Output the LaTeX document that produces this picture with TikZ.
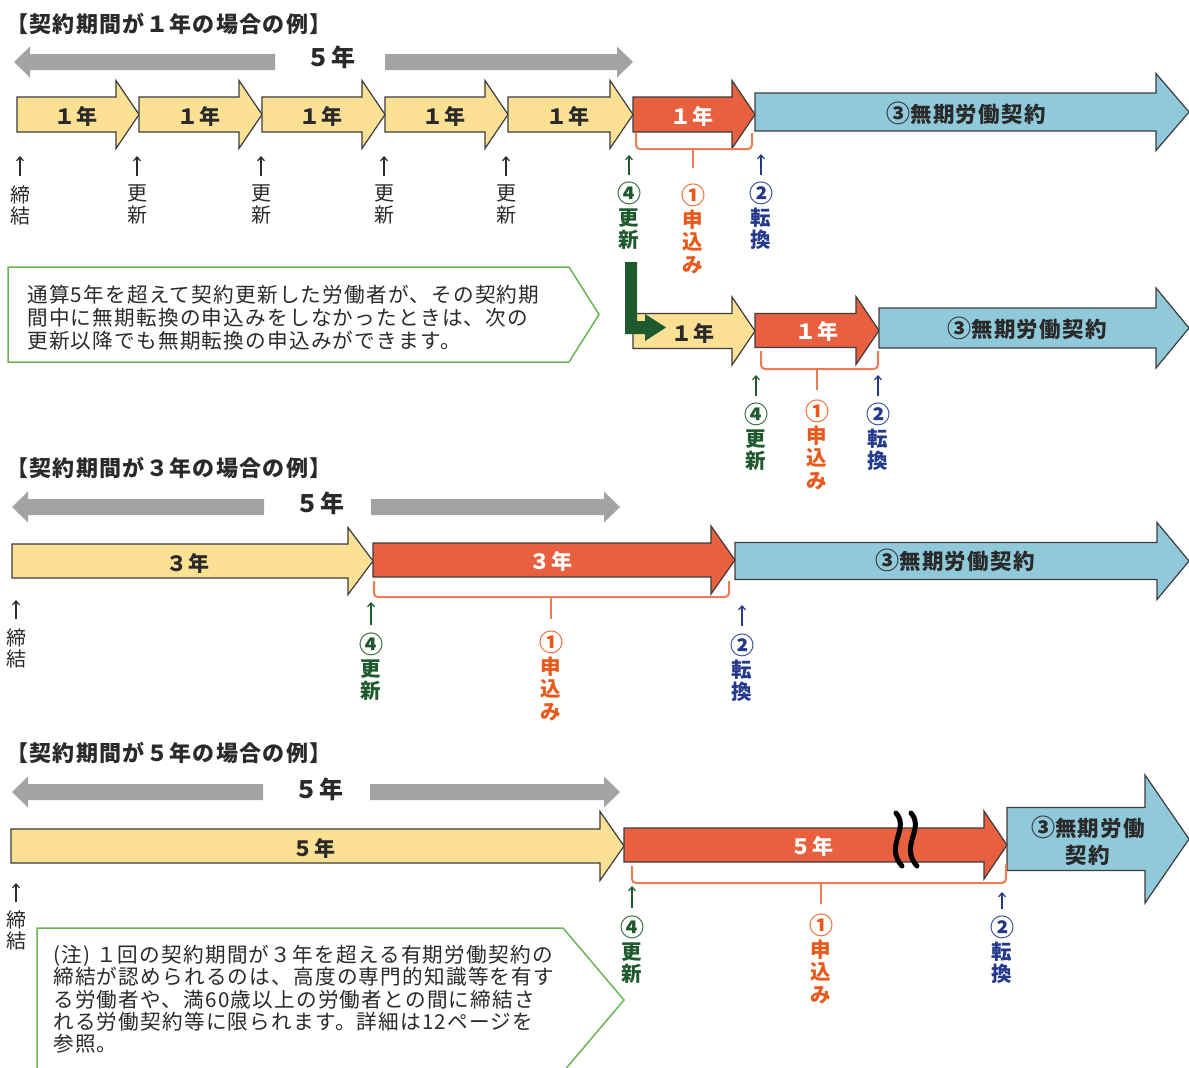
\documentclass[tikz,border=0pt]{standalone}
\usepackage{fontspec}
\setmainfont{Noto Sans CJK JP}
\newfontfamily\jpls[LetterSpace=6]{Noto Sans CJK JP}
\usetikzlibrary{arrows.meta}
\definecolor{yelF}{HTML}{FCE195}
\definecolor{redF}{HTML}{E8603F}
\definecolor{bluF}{HTML}{90C9DA}
\definecolor{grayA}{HTML}{A3A3A3}
\definecolor{outl}{HTML}{3C3C3C}
\definecolor{boxG}{HTML}{6AB656}
\definecolor{dgreen}{HTML}{1F5A2F}
\definecolor{orT}{HTML}{E85A1C}
\definecolor{blT}{HTML}{25398C}
\definecolor{brkC}{HTML}{EE7C52}
\definecolor{txt}{HTML}{2A2A2A}
\newcommand{\cn}[1]{{\fontsize{24}{22.5}\selectfont #1}}
\newcommand{\barrow}[7]{%
  \path[#1] (#2,{#5-#6}) -- (#3,{#5-#6}) -- (#3,{#5-#7}) -- (#4,#5) -- (#3,{#5+#7}) -- (#3,{#5+#6}) -- (#2,{#5+#6}) -- cycle;}
\newcommand{\garrow}[7]{%
  \fill[grayA] (#1,#7) -- (#2,{#7-15.5}) -- (#2,{#7-8}) -- (#3,{#7-8}) -- (#3,{#7+8}) -- (#2,{#7+8}) -- (#2,{#7+15.5}) -- cycle;
  \fill[grayA] (#6,#7) -- (#5,{#7-15.5}) -- (#5,{#7-8}) -- (#4,{#7-8}) -- (#4,{#7+8}) -- (#5,{#7+8}) -- (#5,{#7+15.5}) -- cycle;}
\begin{document}
\begin{tikzpicture}[x=1pt,y=-1pt,
  arr/.style={draw=outl, line width=1.2, line join=miter},
  ya/.style={arr, fill=yelF},
  ra/.style={arr, fill=redF},
  ba/.style={arr, fill=bluF},
  title/.style={anchor=west, inner sep=0, text=txt, font=\jpls\bfseries\fontsize{22}{22}\selectfont},
  fiveL/.style={inner sep=0, text=txt, font=\jpls\bfseries\fontsize{24}{24}\selectfont},
  lab/.style={inner sep=0, text=txt, font=\jpls\bfseries\fontsize{21}{21}\selectfont},
  wlab/.style={lab, text=white},
  blab/.style={inner sep=0, text=txt, align=center, font=\jpls\bfseries\fontsize{21.5}{27}\selectfont},
  vl/.style={inner sep=0, anchor=north, align=center},
  vlk/.style={vl, text=txt, font=\fontsize{20}{21.5}\selectfont},
  vlg/.style={vl, text=dgreen, font=\bfseries\fontsize{20.5}{22.5}\selectfont},
  vlo/.style={vl, text=orT, font=\bfseries\fontsize{20.5}{22.5}\selectfont},
  vlb/.style={vl, text=blT, font=\bfseries\fontsize{20.5}{22.5}\selectfont},
  uarr/.style={line width=1.2, -{Straight Barb[length=4pt,width=7pt]}},
  brk/.style={draw=brkC, line width=2, rounded corners=4},
  callout/.style={draw=boxG, line width=1.5, line join=miter},
  ctext/.style={anchor=north west, inner sep=0, align=left, text=txt},
  wave/.style={line width=5, line cap=round, black}
]
\useasboundingbox (0,0) rectangle (1189,1068);
\fill[white] (0,0) rectangle (1189,1068);
\clip (0,0) rectangle (1189,1068);

% ===== Section 1 =====
\node[title] (t1) at (6,24) {【契約期間が１年の場合の例】};
\garrow{14}{30}{275}{385}{617}{633}{62}
\node[fiveL] (g1) at (331,57) {５年};

\barrow{ya}{17}{116}{139}{114.5}{17.5}{34}
\barrow{ya}{139}{239}{262}{114.5}{17.5}{34}
\barrow{ya}{262}{362}{385}{114.5}{17.5}{34}
\barrow{ya}{385}{485}{508}{114.5}{17.5}{34}
\barrow{ya}{508}{610}{633}{114.5}{17.5}{34}
\barrow{ra}{633}{732}{755}{114.5}{17.5}{34}
\barrow{ba}{755}{1156}{1189}{112}{19}{38.5}
\node[lab] (y1) at (76,116) {１年};
\node[lab] (y2) at (199,116) {１年};
\node[lab] (y3) at (321,116) {１年};
\node[lab] (y4) at (444,116) {１年};
\node[lab] (y5) at (568,116) {１年};
\node[wlab] (r1) at (692,116) {１年};
\node[blab] (b1) at (966,113) {\cn{③}無期労働契約};

\draw[brk] (636,133) -- (636,149) -- (752,149) -- (752,133);
\draw[brk] (693,149) -- (693,168);

\node[vlk] (k1) at (20,185) {締\\結};
\node[vlk] (k2) at (137,185) {更\\新};
\node[vlk] (k3) at (261,185) {更\\新};
\node[vlk] (k4) at (384,185) {更\\新};
\node[vlk] (k5) at (506,185) {更\\新};
\coordinate (k1t) at (20,156);
\coordinate (k2t) at (137,156);
\coordinate (k3t) at (261,156);
\coordinate (k4t) at (384,156);
\coordinate (k5t) at (506,156);
\foreach \i in {1,...,5} \draw[uarr, txt, shorten <=9pt] (k\i) -- (k\i t);

\node[vlg] (gA) at (629,182) {\cn{④}\\更\\新};
\coordinate (gAt) at (629,155);
\draw[uarr, dgreen, shorten <=7pt] (gA) -- (gAt);
\node[vlo] (oA) at (693,184) {\cn{①}\\申\\込\\み};
\node[vlb] (bA) at (761,182) {\cn{②}\\転\\換};
\coordinate (bAt) at (761,154);
\draw[uarr, blT, shorten <=7pt] (bA) -- (bAt);

% second row
\barrow{ya}{633}{732}{755}{331}{17.5}{34}
\barrow{ra}{755}{856}{879}{330.5}{17}{34}
\barrow{ba}{879}{1156}{1189}{328}{20}{40}
\fill[dgreen] (625,262) -- (637,262) -- (637,321) -- (645,321) -- (645,314) -- (666,327.5) -- (645,341) -- (645,334) -- (625,334) -- cycle;
\node[lab] (y6) at (693,333) {１年};
\node[wlab] (r2) at (817,331) {１年};
\node[blab] (b2) at (1027,328) {\cn{③}無期労働契約};
\draw[brk] (761,351) -- (761,369) -- (878,369) -- (878,351);
\draw[brk] (817,369) -- (817,390);
\node[vlg] (gB) at (756,403) {\cn{④}\\更\\新};
\coordinate (gBt) at (756,375);
\draw[uarr, dgreen, shorten <=7pt] (gB) -- (gBt);
\node[vlo] (oB) at (817,400) {\cn{①}\\申\\込\\み};
\node[vlb] (bB) at (878,403) {\cn{②}\\転\\換};
\coordinate (bBt) at (878,375);
\draw[uarr, blT, shorten <=7pt] (bB) -- (bBt);

% callout 1
\draw[callout] (8,267) -- (569,267) -- (599,314.5) -- (569,362) -- (8,362) -- cycle;
\node[ctext, font=\jpls\fontsize{20.6}{23}\selectfont] (c1) at (27,285) {通算5年を超えて契約更新した労働者が、その契約期\\間中に無期転換の申込みをしなかったときは、次の\\更新以降でも無期転換の申込みができます。};

% ===== Section 2 =====
\node[title] (t2) at (6,468) {【契約期間が３年の場合の例】};
\garrow{12}{28}{264}{371}{604}{620}{507}
\node[fiveL] (g2) at (320,503) {５年};
\barrow{ya}{12}{348}{373}{561}{17}{33.5}
\barrow{ra}{373}{711}{735}{560}{17}{34}
\barrow{ba}{735}{1157}{1189}{561}{18.5}{38.5}
\node[lab] (y7) at (188,563) {３年};
\node[wlab] (r3) at (551,561) {３年};
\node[blab] (b3) at (955,560) {\cn{③}無期労働契約};
\draw[brk] (374,581) -- (374,597) -- (729,597) -- (729,581);
\draw[brk] (551,597) -- (551,619);
\node[vlk] (k6) at (16,628) {締\\結};
\coordinate (k6t) at (16,600);
\draw[uarr, txt, shorten <=9pt] (k6) -- (k6t);
\node[vlg] (gC) at (371,633) {\cn{④}\\更\\新};
\coordinate (gCt) at (371,602);
\draw[uarr, dgreen, shorten <=8pt] (gC) -- (gCt);
\node[vlo] (oC) at (551,631) {\cn{①}\\申\\込\\み};
\node[vlb] (bC) at (742,634) {\cn{②}\\転\\換};
\coordinate (bCt) at (742,605);
\draw[uarr, blT, shorten <=8pt] (bC) -- (bCt);

% ===== Section 3 =====
\node[title] (t3) at (6,753) {【契約期間が５年の場合の例】};
\garrow{12}{28}{263}{370}{604}{620}{792}
\node[fiveL] (g3) at (319,789) {５年};
\barrow{ya}{11}{600}{624}{846}{17}{34.5}
\barrow{ra}{624}{984}{1007}{845}{17}{34}
\barrow{ba}{1007}{1145}{1189}{839}{31.5}{64}
\draw[wave] (896,813) .. controls (910,829) and (884,846) .. (902,866);
\draw[wave] (911,813) .. controls (925,829) and (899,846) .. (917,866);
\node[lab] (y8) at (314,848) {５年};
\node[wlab] (r4) at (812,846) {５年};
\node[blab] (b4) at (1088,841) {\cn{③}無期労働\\契約};
\draw[brk] (632,866) -- (632,883) -- (1006,883) -- (1006,864);
\draw[brk] (821,883) -- (821,904);
\node[vlk] (k7) at (16,910) {締\\結};
\coordinate (k7t) at (16,883);
\draw[uarr, txt, shorten <=8pt] (k7) -- (k7t);
\node[vlg] (gD) at (632,916) {\cn{④}\\更\\新};
\coordinate (gDt) at (632,886);
\draw[uarr, dgreen, shorten <=8pt] (gD) -- (gDt);
\node[vlo] (oD) at (821,914) {\cn{①}\\申\\込\\み};
\node[vlb] (bD) at (1002,916) {\cn{②}\\転\\換};
\coordinate (bDt) at (1002,892);
\draw[uarr, blT, shorten <=7pt] (bD) -- (bDt);

% callout 2
\draw[callout] (37,928) -- (563,928) -- (624,1000) -- (563,1072) -- (37,1072) -- cycle;
\node[ctext, font=\jpls\fontsize{20.6}{22.3}\selectfont] (c2) at (53,945) {(注) １回の契約期間が３年を超える有期労働契約の\\締結が認められるのは、高度の専門的知識等を有す\\る労働者や、満60歳以上の労働者との間に締結さ\\れる労働契約等に限られます。詳細は12ページを\\参照。};
\end{tikzpicture}
\end{document}
